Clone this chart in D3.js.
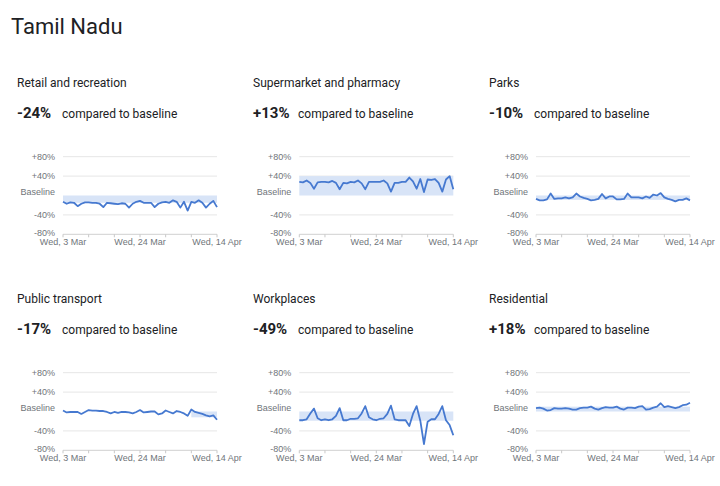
<!DOCTYPE html>
<html><head><meta charset="utf-8">
<script src="https://cdn.jsdelivr.net/npm/d3@7"></script>
<style>body{margin:0;background:#fff;}svg{display:block;font-family:Roboto,"Liberation Sans",Arial,sans-serif;}</style>
</head><body>
<script>
const region = "Tamil Nadu";
const categories = ["Retail and recreation","Supermarket and pharmacy","Parks","Public transport","Workplaces","Residential"];
const headline = ["-24%","+13%","-10%","-17%","-49%","+18%"];
const retail = [-13,-17,-14,-15,-22,-17,-14,-14,-15,-15,-17,-24,-15,-16,-17,-18,-16,-17,-25,-17,-13,-11,-15,-15,-15,-24,-17,-14,-13,-15,-10,-13,-25,-13,-31,-13,-15,-10,-15,-25,-17,-11,-24];
const supermarket = [28,27,31,26,14,27,28,28,27,30,26,13,26,25,28,27,31,25,13,28,28,28,28,31,25,8,26,26,28,28,37,29,14,34,7,33,32,34,26,8,33,40,13];
const parks = [-7,-10,-10,-8,4,-7,-6,-6,-4,-6,-4,4,-2,-5,-7,-10,-9,-7,3,-6,-2,-2,-8,-8,-7,4,-4,-4,-4,-6,-2,-5,2,0,5,-4,-7,-9,-12,-9,-9,-6,-10];
const transport = [2,-2,-1,-1,-1,-5,-1,3,2,2,1,1,-1,-4,-1,-3,-1,-1,-2,-4,-1,3,-2,-1,0,0,-6,-4,2,-1,-4,1,-1,-4,-9,4,-1,-3,-5,-8,-10,-8,-17];
const workplaces = [-18,-18,-16,-4,6,-14,-18,-16,-18,-16,-9,7,-18,-18,-15,-15,-14,-4,11,-12,-16,-18,-15,-14,-5,12,-16,-18,-18,-18,-30,-5,11,-19,-67,-21,-16,-16,-5,11,-18,-28,-49];
const residential = [7,8,6,2,3,7,6,6,7,6,4,4,7,8,8,10,6,4,7,9,8,8,10,6,4,8,8,7,10,11,4,5,8,10,17,9,11,9,7,9,13,14,18];
const seriesList = [retail, supermarket, parks, transport, workplaces, residential];
// shaded band per panel: [from index, to index, low %, high %]
const bands = [[0,42,-15,0],[0,42,0,40],[0,42,-9,0],[35,42,-12,0],[0,42,-19,0],[0,42,0,10]];
const yTicks = [80,40,0,-40,-80];
const yTickLabels = ["+80%","+40%","Baseline","-40%","-80%"];
const xTickLabels = ["Wed, 3 Mar","Wed, 24 Mar","Wed, 14 Apr"];
const xLabelIdx = [0,21,42];
const weekIdx = [0,7,14,21,28,35,42];

const W = 720, H = 486;
const svg = d3.select("body").append("svg").attr("width",W).attr("height",H);
svg.append("text").attr("x",11).attr("y",34).attr("font-size",22).attr("fill","#202124").text(region);

const colText = [17,253,489];
const colPlot = [63,299.3,536];
const rowOff = [0,216];
const plotW = 154;
const lineColor = "#4679d0";
const axisFont = "'Liberation Sans', Arial, sans-serif";

categories.forEach((cat,k)=>{
  const c = k%3, r = Math.floor(k/3);
  const dy = rowOff[r];
  const g = svg.append("g");
  g.append("text").attr("x",colText[c]).attr("y",86.5+dy).attr("font-size",12).attr("fill","#202124").text(cat);
  g.append("text").attr("x",colText[c]).attr("y",118+dy).attr("font-size",15).attr("font-weight","bold").attr("fill","#202124").text(headline[k]);
  g.append("text").attr("x",colText[c]+45).attr("y",117.5+dy).attr("font-size",12).attr("fill","#202124").text("compared to baseline");

  const x = d3.scaleLinear().domain([0,42]).range([colPlot[c], colPlot[c]+plotW]);
  const y = d3.scaleLinear().domain([-80,80]).range([234.3+dy, 156.7+dy]);

  // gridlines
  g.selectAll(".grid").data(yTicks.filter(v=>v!==0)).enter().append("line")
    .attr("x1",x(0)).attr("x2",x(42)).attr("y1",d=>y(d)).attr("y2",d=>y(d))
    .attr("stroke",d=>d===-80?"#d0d0d0":"#e6e6e6").attr("stroke-width",1);
  // y labels
  g.selectAll(".yl").data(yTicks).enter().append("text")
    .attr("x",colPlot[c]-8).attr("y",d=>y(d)+(d===0?-4:(d===-80?-1.5:0))).attr("dy","0.35em")
    .attr("text-anchor","end").attr("font-size",9).attr("font-family",axisFont).attr("fill","#70757a")
    .text((d,i)=>yTickLabels[i]);
  // x ticks
  g.selectAll(".xt").data(weekIdx).enter().append("line")
    .attr("x1",d=>x(d)).attr("x2",d=>x(d)).attr("y1",y(-80)).attr("y2",y(-80)+3)
    .attr("stroke","#c8c8c8").attr("stroke-width",1);
  g.selectAll(".xl").data(xLabelIdx).enter().append("text")
    .attr("x",d=>x(d)).attr("y",y(-80)+7.5).attr("dy","0.35em")
    .attr("text-anchor","middle").attr("font-size",9).attr("font-family",axisFont).attr("fill","#70757a")
    .text((d,i)=>xTickLabels[i]);
  // band
  const b = bands[k];
  g.append("rect").attr("x",x(b[0])).attr("width",x(b[1])-x(b[0]))
    .attr("y",y(b[3])).attr("height",y(b[2])-y(b[3])).attr("fill","#d8e4f7");
  // line
  const line = d3.line().x((d,i)=>x(i)).y(d=>y(d));
  g.append("path").datum(seriesList[k]).attr("d",line).attr("fill","none")
    .attr("stroke",lineColor).attr("stroke-width",1.8).attr("stroke-linejoin","round");
});
</script>
</body></html>
